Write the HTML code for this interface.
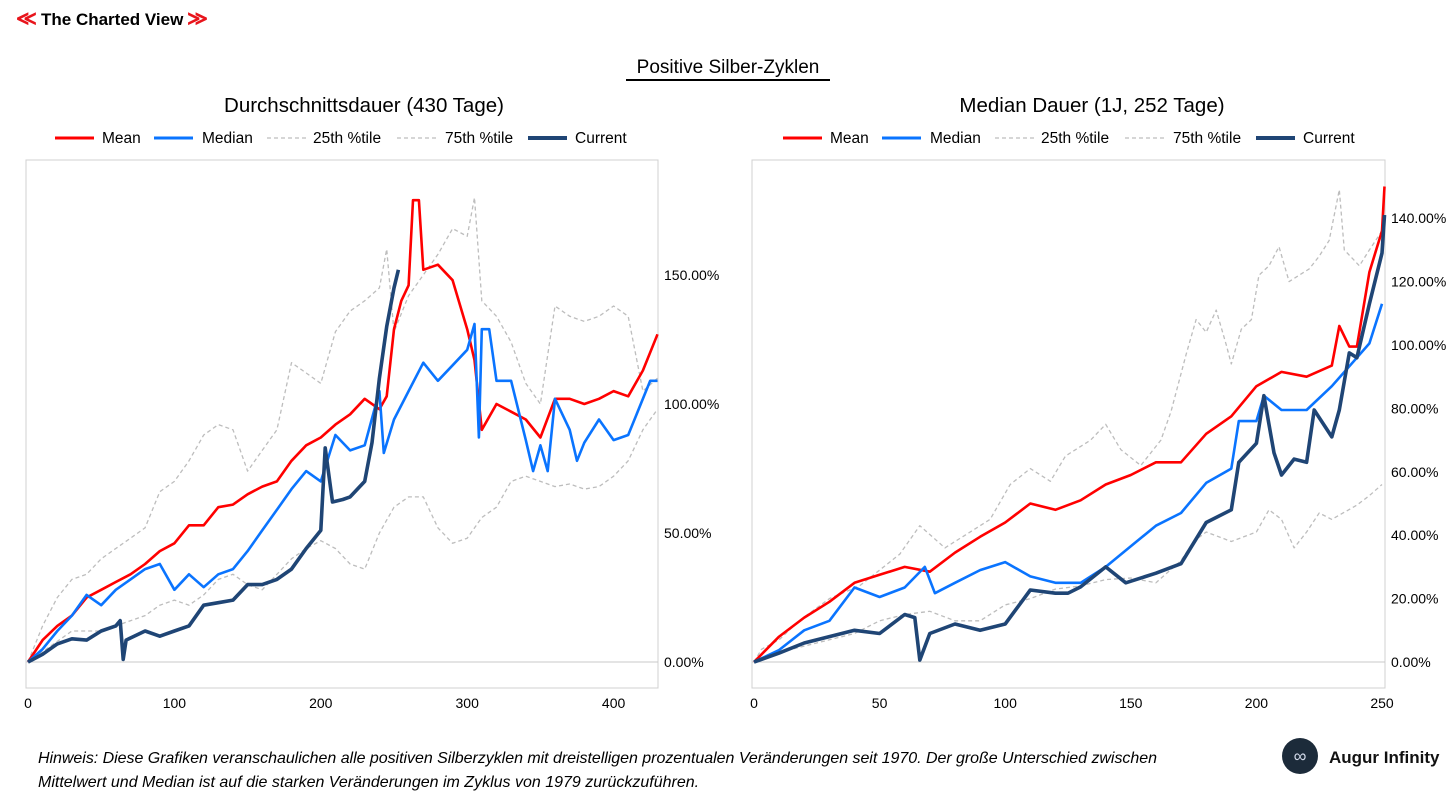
<!DOCTYPE html>
<html><head><meta charset="utf-8">
<style>
body{margin:0;width:1456px;height:803px;background:#fff;font-family:"Liberation Sans",sans-serif;overflow:hidden;position:relative}
svg{position:absolute;left:0;top:0}
</style></head>
<body>
<svg id="s" width="1456" height="803">
  <g>
    <text x="16" y="25" fill="#e8141b" font-size="20" font-weight="bold">≪</text>
    <text x="41" y="25" fill="#000" font-size="17" font-weight="bold">The Charted View</text>
    <text x="187" y="25" fill="#e8141b" font-size="20" font-weight="bold">≫</text>
  </g>
  <text x="728" y="73" text-anchor="middle" font-size="19">Positive Silber-Zyklen</text>
  <line x1="626" y1="80" x2="830" y2="80" stroke="#000" stroke-width="2"/>
  <text x="364" y="112" text-anchor="middle" font-size="20.5">Durchschnittsdauer (430 Tage)</text>
  <text x="1092" y="112" text-anchor="middle" font-size="20.5">Median Dauer (1J, 252 Tage)</text>
  <g id="charts"></g>
  <text x="38" y="763" font-size="16" font-style="italic" textLength="1119">Hinweis: Diese Grafiken veranschaulichen alle positiven Silberzyklen mit dreistelligen prozentualen Veränderungen seit 1970. Der große Unterschied zwischen</text>
  <text x="38" y="787" font-size="16" font-style="italic">Mittelwert und Median ist auf die starken Veränderungen im Zyklus von 1979 zurückzuführen.</text>
  <g>
    <circle cx="1300" cy="756" r="18" fill="#1c2b3a"/>
    <text x="1300" y="762" text-anchor="middle" font-size="18" fill="#d0d8e8">∞</text>
    <text x="1329" y="763" font-size="17" font-weight="bold" fill="#111">Augur Infinity</text>
  </g>
</svg>
<script>
// ---- Left chart data (days, % change) ----
const leftMeanDays=[0,10,20,30,40,50,60,70,80,90,100,110,120,130,140,150,160,170,180,190,200,210,220,230,240,245,250,255,260,263,267,270,280,290,300,305,310,320,330,340,350,360,370,380,390,400,410,420,430];
const leftMeanVals=[0,8.5,14,18,25,28,31,34,38,43,46,53,53,60,61,65,68,70,78,84,87,92,96,102,98,103,129,140,146,179,179,152,154,148,129,117,90,100,97,94,87,102,102,100,102,105,103,113,127];
const leftMedianDays=[0,10,20,30,40,50,60,70,80,90,100,110,120,130,140,150,160,170,180,190,200,210,220,230,240,243,250,260,270,280,290,300,305,308,310,315,320,330,340,345,350,355,360,370,375,380,390,400,410,420,425,430];
const leftMedianVals=[0,5,12,18,26,22,28,32,36,38,28,34,29,34,36,43,51,59,67,74,70,88,82,84,105,81,94,105,116,109,115,121,131,87,129,129,109,109,86,74,84,74,102,90,78,85,94,86,88,102,109,109];
const leftCurrentDays=[0,10,20,30,40,50,60,63,65,67,80,90,100,110,120,130,140,150,160,170,180,190,200,203,208,215,220,230,235,240,245,250,253];
const leftCurrentVals=[0,3,7,9,8.5,12,14,16,1,8.5,12,10,12,14,22,23,24,30,30,32,36,44,51,83,62,63,64,70,85,110,130,145,152];
const leftP75Days=[0,10,20,30,40,50,60,70,80,90,100,110,120,130,140,150,160,170,180,190,200,210,220,230,240,245,250,260,270,280,290,300,305,310,320,330,340,350,360,370,380,390,400,410,420,430];
const leftP75Vals=[0,14,25,32,34,40,44,48,52,66,70,78,88,92,90,74,82,90,116,112,108,128,136,140,145,160,128,142,150,158,168,165,180,140,134,124,108,100,138,134,132,134,138,134,105,110];
const leftP25Days=[0,10,20,30,40,50,60,70,80,90,100,110,120,130,140,150,160,170,180,190,200,210,220,230,240,250,260,270,280,290,300,310,320,330,340,350,360,370,380,390,400,410,420,430];
const leftP25Vals=[0,4,8,12,12,12,14,16,18,22,24,22,26,32,34,30,28,34,40,44,47,44,38,36,50,60,64,64,52,46,48,56,60,70,72,70,68,69,67,68,72,78,90,98];
const leftXTicks=[0,100,200,300,400];
const leftYTicks=[0,50,100,150];
// ---- Right chart data ----
const rightMeanDays=[0,10,20,30,40,50,60,70,80,90,100,110,120,130,140,150,160,170,180,190,200,210,220,230,233,237,240,245,250,251];
const rightMeanVals=[0,8,14,19,25,27.5,30,28.5,34.5,39.5,44,50,48,51,56,59,63,63,72,77.5,87,91.5,90,93.5,106,99.5,99.5,123,136,150];
const rightMedianDays=[0,10,20,30,40,50,60,68,72,80,90,100,110,120,130,140,150,160,170,180,190,193,200,203,210,220,230,240,245,250];
const rightMedianVals=[0,3.8,10,13,23.5,20.5,23.5,30,21.7,25,29,31.5,27,25,25,30,36.5,43,47,56.5,61,76,76,84,79.5,79.5,87,96,100.5,113];
const rightCurrentDays=[0,10,20,30,40,50,60,64,66,70,80,90,100,110,120,125,130,140,148,160,170,180,190,193,200,203,207,210,215,220,223,230,233,237,240,245,250,251];
const rightCurrentVals=[0,2.8,6,8,10,9,15,14,0.6,9,12,10,12,22.7,21.7,21.7,23.7,30,25,28,31,44,48,63,69,84,66,59,64,63,79.5,71,79.5,97.5,96,113,129,141];
const rightP75Days=[0,3,10,18,30,42,50,58,66,76,94,102,110,118,124,134,140,146,154,162,166,172,176,180,184,188,190,194,198,201,205,209,213,221,225,229,233,235,241,245,250];
const rightP75Vals=[0,4,7,13,20,24,29,34,43,36,45,56,61,57,65,70,75,67,62,70,79,97,108,104,111,100,94,105,108,122,125,131,120,124,128,133,149,130,125,130,136];
const rightP25Days=[0,10,20,30,40,50,60,70,80,90,100,110,120,130,140,150,160,170,175,180,190,200,205,210,215,220,225,230,240,245,250];
const rightP25Vals=[0,3,5,7,9,13,15,16,13,13,18,20,23,24,26,26.5,25,32,38,41,38,41,48,45,36,41,47,45,49.5,52.5,56];
const rightXTicks=[0,50,100,150,200,250];
const rightYTicks=[0,20,40,60,80,100,120,140];

const NS='http://www.w3.org/2000/svg';
const root=document.getElementById('charts');
function mk(tag,attrs,parent){const e=document.createElementNS(NS,tag);for(const k in attrs)e.setAttribute(k,attrs[k]);(parent||root).appendChild(e);return e;}

function drawChart(cfg){
  const g=mk('g',{});
  
  
  const xs=d=>cfg.x0+(d-cfg.dMin)*cfg.xScale;
  const ys=v=>cfg.y0-v*cfg.yScale;
  const frame=mk('rect',{x:cfg.left,y:160,width:cfg.right-cfg.left,height:528,fill:'none',stroke:'#d0d0d0','stroke-width':1},g);
  
  
  const zl=mk('line',{x1:cfg.left,x2:cfg.right,y1:ys(0),y2:ys(0),stroke:'#c8c8c8','stroke-width':1},g);
  
  
  cfg.yTicks.forEach(v=>{
    const t=mk('text',{x:cfg.right+6,y:ys(v)+5,'font-size':14,fill:'#000'},g);
    t.textContent=v.toFixed(2)+'%';
    
    
  });
  cfg.xTicks.forEach(v=>{
    const t=mk('text',{x:xs(v),y:708,'font-size':14,'text-anchor':'middle',fill:'#000'},g);
    t.textContent=v;
    
    
  });
  cfg.series.forEach(s=>{
    const pts=s.days.map((d,i)=>xs(d).toFixed(1)+','+ys(s.vals[i]).toFixed(1)).join(' ');
    const a={points:pts,fill:'none',stroke:s.color,'stroke-width':s.w,'stroke-linejoin':'round'};
    if(s.dash)a['stroke-dasharray']=s.dash;
    const p=mk('polyline',a,g);
    
    
  });
  const lg=mk('g',{},g);
  
  
  const items=[['Mean','#f00',3,null,55,102],['Median','#0a74ff',3,null,154,202],['25th %tile','#c8c8c8',1.5,'4,3',267,313],['75th %tile','#c8c8c8',1.5,'4,3',397,445],['Current','#1f4575',4,null,528,575]];
  items.forEach(it=>{
    const e=mk('g',{},lg);
    
    
    const la={x1:cfg.lx+it[4],x2:cfg.lx+it[4]+39,y1:138,y2:138,stroke:it[1],'stroke-width':it[2]};
    if(it[3])la['stroke-dasharray']=it[3];
    mk('line',la,e);
    const t=mk('text',{x:cfg.lx+it[5],y:143,'font-size':15.5},e);
    t.textContent=it[0];
  });
}
function series(prefix,d){return [
  {name:prefix+'-p25-line',days:d.p25d,vals:d.p25v,color:'#bdbdbd',w:1.3,dash:'4,3'},
  {name:prefix+'-p75-line',days:d.p75d,vals:d.p75v,color:'#bdbdbd',w:1.3,dash:'4,3'},
  {name:prefix+'-mean-line',days:d.md,vals:d.mv,color:'#ff0000',w:2.6},
  {name:prefix+'-median-line',days:d.medd,vals:d.medv,color:'#0a74ff',w:2.6},
  {name:prefix+'-current-line',days:d.cd,vals:d.cv,color:'#1f4575',w:3.6}
];}
drawChart({name:'left-chart',left:26,right:658,x0:28,dMin:0,xScale:1.464,y0:662,yScale:2.58,lx:0,xTicks:leftXTicks,yTicks:leftYTicks,
  series:series('left',{p25d:leftP25Days,p25v:leftP25Vals,p75d:leftP75Days,p75v:leftP75Vals,md:leftMeanDays,mv:leftMeanVals,medd:leftMedianDays,medv:leftMedianVals,cd:leftCurrentDays,cv:leftCurrentVals})});
drawChart({name:'right-chart',left:752,right:1385,x0:754,dMin:0,xScale:2.512,y0:662,yScale:3.17,lx:728,xTicks:rightXTicks,yTicks:rightYTicks,
  series:series('right',{p25d:rightP25Days,p25v:rightP25Vals,p75d:rightP75Days,p75v:rightP75Vals,md:rightMeanDays,mv:rightMeanVals,medd:rightMedianDays,medv:rightMedianVals,cd:rightCurrentDays,cv:rightCurrentVals})});
</script>
</body></html>
